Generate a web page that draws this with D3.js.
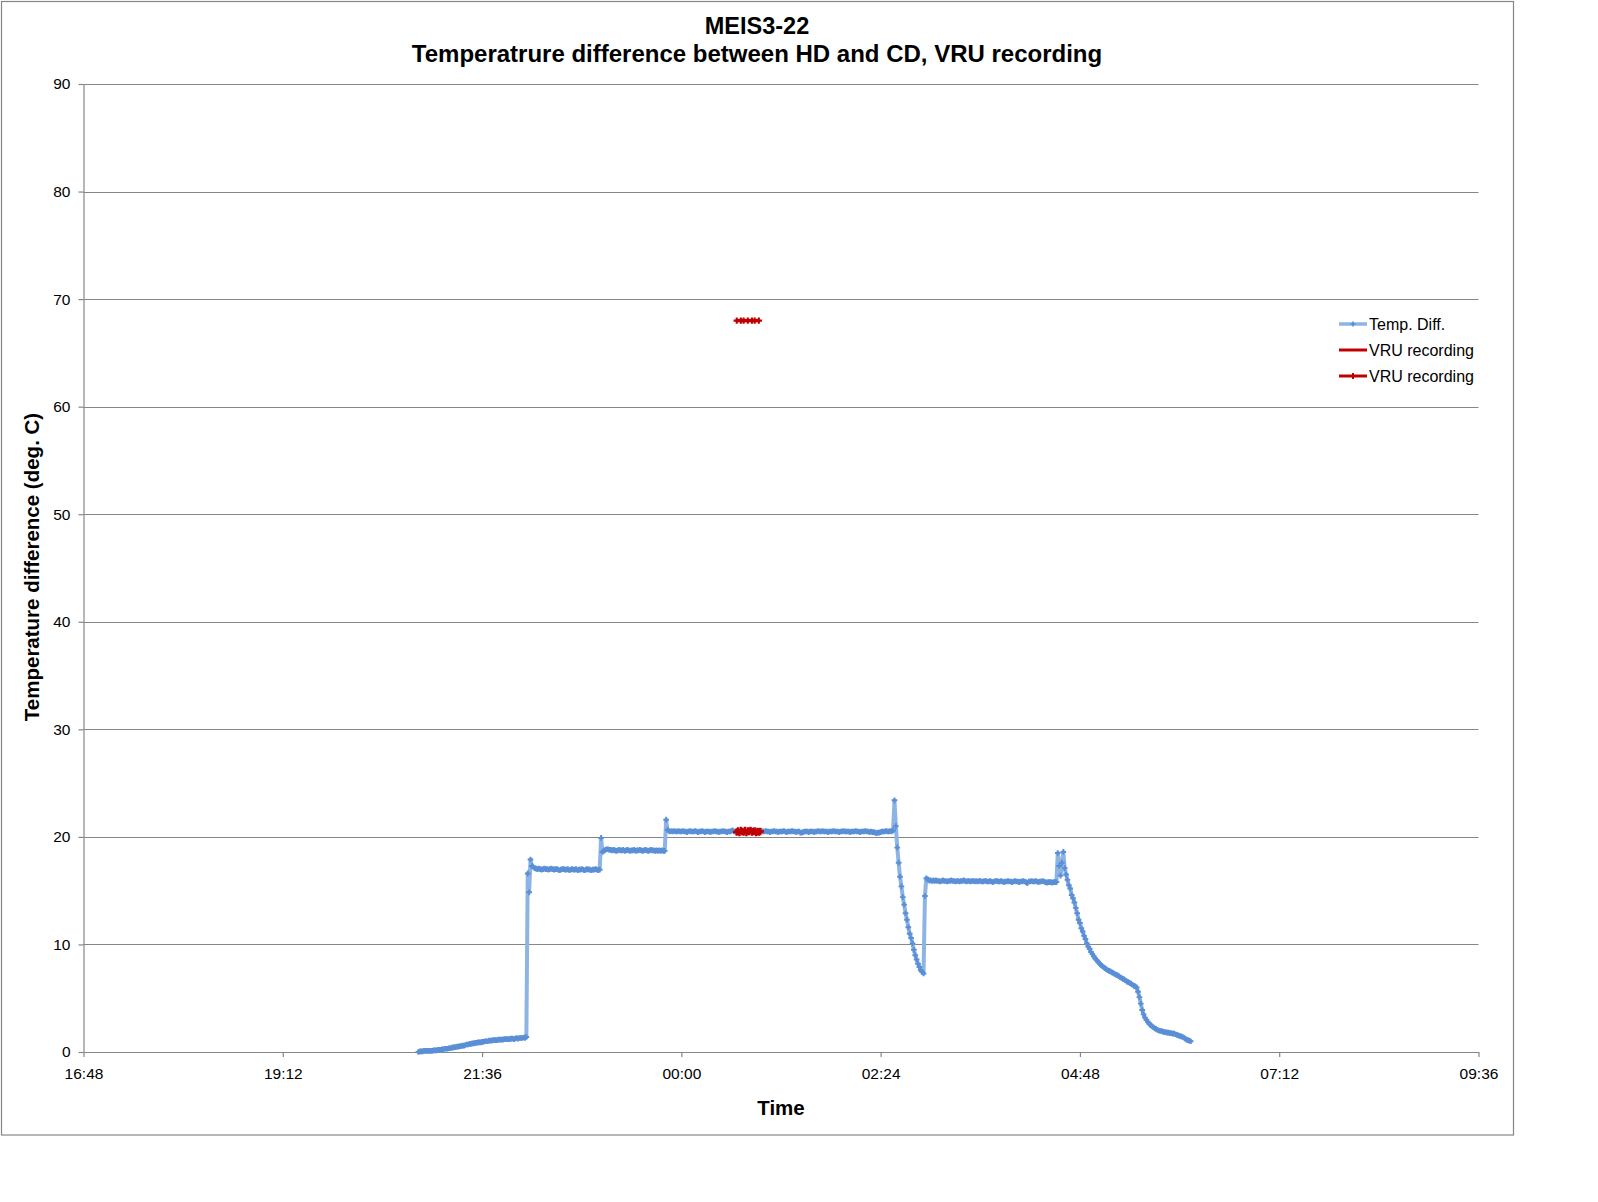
<!DOCTYPE html>
<html>
<head>
<meta charset="utf-8">
<script src="https://cdn.jsdelivr.net/npm/d3@7"></script>
<style>
  html, body { margin: 0; padding: 0; background: #fff; }
  svg { display: block; font-family: "Liberation Sans", Arial, sans-serif; }
</style>
</head>
<body>
<svg id="chart" width="1598" height="1202"></svg>
<script>
// ---------------- DATA ----------------
const chartTitle = "MEIS3-22";
const chartSubtitle = "Temperatrure difference between HD and CD, VRU recording";
const xAxisTitle = "Time";
const yAxisTitle = "Temperature difference (deg. C)";

const xTickLabels = ["16:48", "19:12", "21:36", "00:00", "02:24", "04:48", "07:12", "09:36"];
const yTickValues = [0, 10, 20, 30, 40, 50, 60, 70, 80, 90];
const legendLabels = ["Temp. Diff.", "VRU recording", "VRU recording"];

// Temp. Diff. series, one sample per minute; each block starts at its own clock time
const rampStart = "20:50";
const rampValues = [0.0,0.05,0.05,0.05,0.1,0.1,0.1,0.1,0.1,0.1,0.1,0.15,0.15,0.15,
  0.2,0.2,0.2,0.25,0.25,0.3,0.3,0.3,0.35,0.35,0.4,0.4,0.45,0.45,0.5,0.5,0.55,0.55,0.6,0.6,
  0.65,0.7,0.7,0.75,0.75,0.8,0.8,0.85,0.85,0.9,0.9,0.9,0.95,0.95,1.0,1.0,1.0,1.05,1.05,1.05,1.1,1.1,
  1.1,1.1,1.15,1.15,1.15,1.15,1.2,1.2,1.2,1.2,1.2,1.25,1.25,1.2,1.25,1.3,1.25,1.3,1.3,1.3,1.35,1.3,1.4];

const jump1Start = "22:09";
const jump1Values = [16.6, 14.85, 17.9, 17.3];

const plateau1Start = "22:13";
const plateau1Values = [17.2,17.1,17.05,17.0,17.05,17.0,16.95,17.0,17.05,17.0,
  17.0,16.95,17.0,17.05,17.0,16.95,17.0,17.0,16.95,16.9,
  16.95,17.0,17.0,16.95,16.95,17.0,16.9,16.95,17.0,16.95,
  16.95,17.0,16.9,16.95,16.95,17.0,16.95,16.9,16.95,17.0,
  16.95,16.95,16.9,16.95,16.95,17.0,16.95,16.9];

const jump2Start = "23:01";
const jump2Values = [16.95, 19.9, 18.6];

const plateau2Start = "23:04";
const plateau2Values = [18.7,18.8,18.85,18.85,18.8,18.8,18.75,18.8,18.75,18.7,
  18.75,18.8,18.75,18.75,18.8,18.7,18.75,18.8,18.75,18.7,
  18.75,18.75,18.8,18.7,18.75,18.75,18.8,18.75,18.7,18.75,
  18.8,18.75,18.7,18.75,18.8,18.75,18.75,18.7,18.75,18.7,
  18.75,18.7,18.75,18.7,18.7];

const jump3Start = "23:49";
const jump3Values = [21.6];

const plateau3Start = "23:50";
const plateau3Values = [20.65,20.55,20.5,20.55,20.5,20.55,20.5,20.5,20.55,20.5,
  20.5,20.55,20.5,20.5,20.45,20.5,20.55,20.5,20.5,20.5,
  20.55,20.5,20.45,20.5,20.5,20.55,20.5,20.45,20.5,20.5,
  20.5,20.45,20.5,20.5,20.55,20.5,20.5,20.45,20.5,20.5,
  20.55,20.5,20.5,20.45,20.5,20.5,20.55,20.6,20.5,20.5,
  20.45,20.55,20.4,20.6,20.5,20.45,20.6,20.4,20.55,20.5,
  20.6,20.45,20.5,20.55,20.4,20.5,20.45,20.5,20.55,20.5,
  20.5,20.55,20.5,20.5,20.45,20.5,20.5,20.55,20.5,20.5,
  20.45,20.5,20.5,20.5,20.55,20.5,20.45,20.5,20.5,20.5,
  20.55,20.5,20.5,20.45,20.5,20.5,20.4,20.4,20.45,20.5,
  20.5,20.5,20.45,20.5,20.5,20.5,20.45,20.5,20.5,20.55,
  20.5,20.5,20.55,20.5,20.5,20.5,20.45,20.5,20.5,20.5,
  20.55,20.5,20.5,20.5,20.45,20.5,20.5,20.55,20.5,20.5,
  20.5,20.5,20.45,20.5,20.5,20.5,20.55,20.5,20.5,20.45,
  20.5,20.5,20.5,20.55,20.5,20.5,20.45,20.5,20.45,20.45,
  20.4,20.35,20.4,20.4,20.45,20.5,20.5,20.5,20.55,20.5,
  20.5,20.55,20.5,20.6];

const decay1Start = "02:34";
const decay1Values = [23.4,21.0,19.0,17.6,16.3,15.4,14.4,13.7,12.9,12.3,11.6,11.0,10.6,10.1,
  9.5,9.0,8.6,8.2,7.9,7.6,7.45,7.3,14.5,16.15];

const plateau4Start = "02:58";
const plateau4Values = [16.05,15.95,15.95,15.9,15.95,15.9,15.95,15.9,15.9,15.85,
  15.9,15.95,15.9,15.9,15.85,15.9,15.9,15.95,15.9,15.9,
  15.85,15.9,15.9,15.85,15.9,15.9,15.95,15.9,15.85,15.9,
  15.9,15.85,15.9,15.9,15.85,15.9,15.85,15.9,15.9,15.85,
  15.85,15.9,15.9,15.85,15.85,15.9,15.85,15.8,15.85,15.9,
  15.9,15.85,15.85,15.9,15.85,15.8,15.85,15.85,15.9,15.85,
  15.85,15.8,15.85,15.9,15.85,15.85,15.8,15.85,15.85,15.9,
  15.85,15.8,15.7,15.85,15.85,15.9,15.85,15.85,15.9,15.85,
  15.8,15.85,15.85,15.9,15.85,15.8,15.75,15.8,15.8,15.8,
  15.75,15.8,15.8,15.8];

const decay2Start = "04:32";
const decay2Values = [18.5,17.3,16.4,17.6,18.6,17.1,16.5,16.0,15.5,15.2,
  14.6,14.3,13.9,13.4,12.9,12.3,12.0,11.5,11.2,10.8,
  10.5,10.1,9.8,9.6,9.3,9.1,8.9,8.7,8.55,8.4,
  8.25,8.1,8.0,7.9,7.8,7.7,7.6,7.55,7.5,7.4,
  7.35,7.25,7.2,7.15,7.05,6.95,6.9,6.8,6.75,6.65,
  6.55,6.5,6.4,6.35,6.25,6.15,6.1,6.0,5.6,5.1,
  4.5,3.9,3.5,3.2,3.0,2.8,2.65,2.5,2.4,2.3,
  2.2,2.15,2.05,2.0,1.95,1.95,1.9,1.85,1.85,1.8,
  1.8,1.75,1.75,1.7,1.7,1.65,1.6,1.55,1.5,1.45,
  1.42,1.35,1.25,1.15,1.1,1.05,1.0];

// VRU recording (marker level line)
const vruLevelTimes = ["00:40", "00:43", "00:45", "00:48", "00:51", "00:53", "00:56"];
const vruLevelValues = [68, 68, 68, 68, 68, 68, 68];

// VRU recording (on the temperature curve), one sample per minute
const vruCurveStart = "00:40";
const vruCurveValues = [20.45,20.55,20.4,20.6,20.5,20.45,20.6,20.4,20.55,20.5,
  20.6,20.45,20.5,20.55,20.4,20.5,20.45,20.5];

// ---------------- HELPERS ----------------
function clock(str) {
  const [h, m] = str.split(":").map(Number);
  // times from 16:48 belong to day 1, earlier clock times to the next day
  const day = (h > 16 || (h === 16 && m >= 48)) ? 1 : 2;
  return new Date(2000, 0, day, h, m);
}
function series(startStr, values) {
  const t0 = clock(startStr);
  return values.map((v, i) => ({ t: d3.timeMinute.offset(t0, i), v }));
}

const tempDiff = [].concat(
  series(rampStart, rampValues),
  series(jump1Start, jump1Values),
  series(plateau1Start, plateau1Values),
  series(jump2Start, jump2Values),
  series(plateau2Start, plateau2Values),
  series(jump3Start, jump3Values),
  series(plateau3Start, plateau3Values),
  series(decay1Start, decay1Values),
  series(plateau4Start, plateau4Values),
  series(decay2Start, decay2Values)
);
const vruLevel = vruLevelTimes.map((s, i) => ({ t: clock(s), v: vruLevelValues[i] }));
const vruCurve = series(vruCurveStart, vruCurveValues);

// ---------------- LAYOUT ----------------
const svg = d3.select("#chart");
const plot = { left: 83.5, right: 1478.5, top: 84, bottom: 1052 };

const x = d3.scaleTime()
  .domain([clock(xTickLabels[0]), clock(xTickLabels[xTickLabels.length - 1])])
  .range([plot.left, plot.right]);
const y = d3.scaleLinear().domain([0, 90]).range([plot.bottom, plot.top]);

const gridColor = "#868686";
const blueLine = "#8DB4E2";
const blueMarker = "#5A8FD6";
const red = "#C00000";

svg.append("rect").attr("x", 0).attr("y", 0).attr("width", 1598).attr("height", 1202).attr("fill", "#fff");
svg.append("rect").attr("x", 1.5).attr("y", 1.5).attr("width", 1512).attr("height", 1133.5)
  .attr("fill", "none").attr("stroke", gridColor).attr("stroke-width", 1.2);

// gridlines
svg.append("g")
  .selectAll("line").data(yTickValues.filter(d => d > 0)).join("line")
  .attr("x1", plot.left).attr("x2", plot.right)
  .attr("y1", d => Math.round(y(d)) + 0.5).attr("y2", d => Math.round(y(d)) + 0.5)
  .attr("stroke", gridColor).attr("stroke-width", 1.2);

// y axis
const yAxis = svg.append("g").attr("transform", `translate(${plot.left},0)`)
  .call(d3.axisLeft(y).tickValues(yTickValues).tickSize(5).tickPadding(8).tickSizeOuter(0));
yAxis.select(".domain").attr("stroke", gridColor).attr("stroke-width", 1.2);
yAxis.selectAll(".tick line").attr("stroke", gridColor).attr("stroke-width", 1.2);
yAxis.selectAll(".tick text").attr("font-size", "15.5px").attr("fill", "#000")
  .attr("font-family", "'Liberation Sans', Arial, sans-serif");

// x axis
const xAxis = svg.append("g").attr("transform", `translate(0,${plot.bottom})`)
  .call(d3.axisBottom(x).tickValues(xTickLabels.map(clock)).tickFormat(d3.timeFormat("%H:%M"))
    .tickSize(5).tickPadding(11).tickSizeOuter(0));
xAxis.select(".domain").attr("stroke", gridColor).attr("stroke-width", 1.2);
xAxis.selectAll(".tick line").attr("stroke", gridColor).attr("stroke-width", 1.2);
xAxis.selectAll(".tick text").attr("font-size", "15.5px").attr("fill", "#000")
  .attr("font-family", "'Liberation Sans', Arial, sans-serif");

// titles
svg.append("text").attr("x", 757).attr("y", 34).attr("text-anchor", "middle")
  .attr("font-size", "23.5px").attr("font-weight", "bold").text(chartTitle);
svg.append("text").attr("x", 757).attr("y", 61.5).attr("text-anchor", "middle")
  .attr("font-size", "24px").attr("font-weight", "bold").text(chartSubtitle);
svg.append("text").attr("x", 781).attr("y", 1115).attr("text-anchor", "middle")
  .attr("font-size", "20.5px").attr("font-weight", "bold").text(xAxisTitle);
svg.append("text").attr("transform", "translate(39,567) rotate(-90)").attr("text-anchor", "middle")
  .attr("font-size", "20.5px").attr("font-weight", "bold").text(yAxisTitle);

// ---------------- SERIES ----------------
const line = d3.line().x(d => x(d.t)).y(d => y(d.v));

svg.append("path").datum(tempDiff).attr("d", line)
  .attr("fill", "none").attr("stroke", blueLine).attr("stroke-width", 4)
  .attr("stroke-linejoin", "round").attr("stroke-linecap", "round");

const cross = d3.symbol().type(d3.symbolCross).size(18);
svg.append("g").selectAll("path").data(tempDiff).join("path")
  .attr("transform", d => `translate(${x(d.t)},${y(d.v)})`)
  .attr("d", cross).attr("fill", blueMarker);

// VRU on curve
svg.append("path").datum(vruCurve).attr("d", line)
  .attr("fill", "none").attr("stroke", red).attr("stroke-width", 3);
const crossRed = d3.symbol().type(d3.symbolCross).size(30);
svg.append("g").selectAll("path").data(vruCurve).join("path")
  .attr("transform", d => `translate(${x(d.t)},${y(d.v)})`)
  .attr("d", crossRed).attr("fill", red);

// VRU level
svg.append("path").datum(vruLevel).attr("d", line)
  .attr("fill", "none").attr("stroke", red).attr("stroke-width", 3.5);
svg.append("g").selectAll("path").data(vruLevel).join("path")
  .attr("transform", d => `translate(${x(d.t)},${y(d.v)})`)
  .attr("d", d3.symbol().type(d3.symbolCross).size(22)).attr("fill", red);

// ---------------- LEGEND ----------------
const legendRows = [324, 350, 376];
const legend = svg.append("g");
legendLabels.forEach((label, i) => {
  const g = legend.append("g").attr("transform", `translate(0,${legendRows[i]})`);
  g.append("line").attr("x1", 1339).attr("x2", 1367).attr("y1", 0).attr("y2", 0)
    .attr("stroke", i === 0 ? blueLine : red).attr("stroke-width", i === 0 ? 3.5 : 3);
  if (i !== 1) {
    g.append("path").attr("transform", "translate(1353,0)")
      .attr("d", d3.symbol().type(d3.symbolCross).size(i === 0 ? 14 : 20)())
      .attr("fill", i === 0 ? blueMarker : red);
  }
  g.append("text").attr("x", 1369).attr("y", 5.5).attr("font-size", "16px").attr("fill", "#000")
    .text(label);
});
</script>
</body>
</html>
